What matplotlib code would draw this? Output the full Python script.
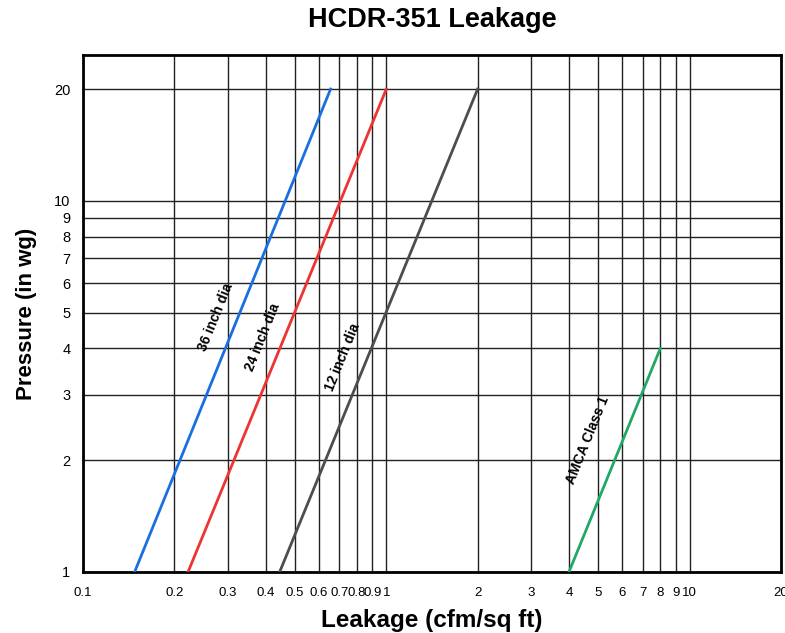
import matplotlib
matplotlib.use("Agg")
import matplotlib.pyplot as plt
from matplotlib.ticker import FixedLocator, NullLocator

plt.rcParams['font.family'] = ['Liberation Sans', 'DejaVu Sans']

# leakage (cfm/sq ft) vs pressure (in wg), two end points per line
names = ["36 inch dia", "24 inch dia", "12 inch dia", "AMCA Class 1"]
colors = ["#1a6fe0", "#ee3333", "#4d4d4d", "#22a866"]
leak = [[0.148, 0.655], [0.222, 1.0], [0.445, 2.0], [4.0, 8.0]]
press = [[1, 20], [1, 20], [1, 20], [1, 4]]

# label centre (leakage, pressure) for each line name
lab_x = [0.273, 0.392, 0.72, 4.6]
lab_y = [4.87, 4.30, 3.80, 2.27]

x_ticks = [0.1, 0.2, 0.3, 0.4, 0.5, 0.6, 0.7, 0.8, 0.9, 1, 2, 3, 4, 5, 6, 7, 8, 9, 10, 20]
x_labels = ["0.1", "0.2", "0.3", "0.4", "0.5", "0.6", "0.7", "0.8", "0.9", "1",
            "2", "3", "4", "5", "6", "7", "8", "9", "10", "20"]
y_ticks = [1, 2, 3, 4, 5, 6, 7, 8, 9, 10, 20]
y_labels = ["1", "2", "3", "4", "5", "6", "7", "8", "9", "10", "20"]

fig = plt.figure(figsize=(7.85, 6.33), dpi=100)
ax = fig.add_axes([0.1057, 0.0964, 0.8892, 0.8167])
ax.set_xscale("log")
ax.set_yscale("log")
ax.set_xlim(0.1, 20)
ax.set_ylim(1, 24.7)

ax.xaxis.set_major_locator(FixedLocator(x_ticks))
ax.yaxis.set_major_locator(FixedLocator(y_ticks))
ax.xaxis.set_minor_locator(NullLocator())
ax.yaxis.set_minor_locator(NullLocator())
ax.set_xticklabels(x_labels, fontsize=9.5)
ax.set_yticklabels(y_labels, fontsize=10.5)
ax.tick_params(length=0, pad=11, axis="x")
ax.tick_params(length=0, pad=9, axis="y")
ax.grid(True, color="#222222", linewidth=1.0)
for s in ax.spines.values():
    s.set_linewidth(2)
    s.set_color("black")

for i in range(len(names)):
    ax.plot(leak[i], press[i], color=colors[i], linewidth=2, zorder=3)
    ax.text(lab_x[i], lab_y[i], names[i], rotation=68, rotation_mode="anchor",
            ha="center", va="center", fontsize=10, fontweight="bold", zorder=4)

ax.set_title("HCDR-351 Leakage", fontsize=19.5, fontweight="bold", pad=20)
ax.set_xlabel("Leakage (cfm/sq ft)", fontsize=17.5, fontweight="bold", labelpad=7)
ax.set_ylabel("Pressure (in wg)", fontsize=16, fontweight="bold", labelpad=12)

fig.savefig("out.png", dpi=100)
